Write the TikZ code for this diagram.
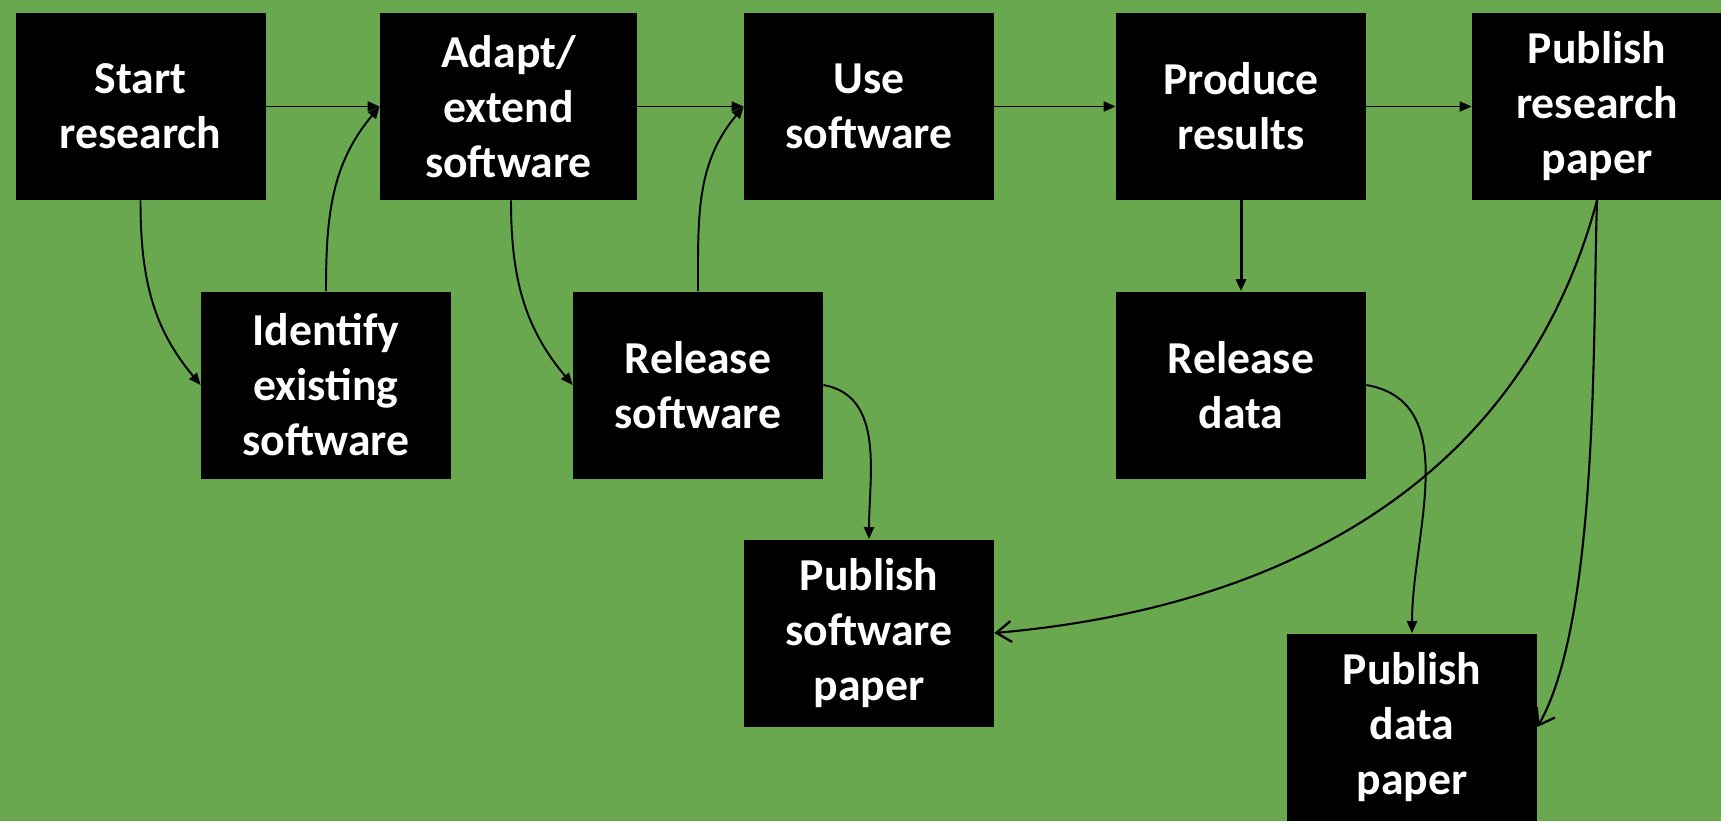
\documentclass[tikz,border=0pt]{standalone}
\usepackage{fontspec}
\newfontfamily\boxfont{Carlito}
\usetikzlibrary{positioning,arrows.meta}
\definecolor{bggreen}{RGB}{106,168,79}
\tikzset{
  stage/.style={fill=black, text=white, minimum width=5cm, minimum height=3.74cm,
    inner sep=0pt, align=center, font=\boxfont\bfseries\fontsize{26}{31.3}\selectfont},
  flow/.style={-{Triangle[length=0.24cm,width=0.2cm]}, line width=1.1pt},
  openflow/.style={-{Straight Barb[length=0.3cm,width=0.42cm,line width=1.3pt]}, line width=1.2pt}
}

\begin{document}
\begin{tikzpicture}
            \fill[bggreen] (0,0) rectangle (34.42,-16.42);
            \useasboundingbox (0,0) rectangle (34.42,-16.42);
            % top row
            \node[stage] (start) at (2.81,-2.13) {Start\\research};
            \node[stage, minimum width=5.14cm] (adapt) at (10.17,-2.13) {Adapt/\\extend\\software};
            \node[stage] (use) at (17.38,-2.13) {Use\\software};
            \node[stage] (produce) at (24.82,-2.13) {Produce\\results};
            \node[stage] (respaper) at (31.94,-2.13) {Publish\\research\\paper};
            % second row
            \node[stage] (identify) at (6.52,-7.7) {Identify\\existing\\software};
            \node[stage] (relsw) at (13.96,-7.7) {Release\\software};
            \node[stage] (reldata) at (24.82,-7.7) {Release\\data};
            % papers
            \node[stage] (swpaper) at (17.38,-12.66) {Publish\\software\\paper};
            \node[stage] (datapaper) at (28.24,-14.54) {Publish\\data\\paper};
            \draw[flow] (start) -- (adapt);
            \draw[flow] (adapt) -- (use);
            \draw[flow] (use) -- (produce);
            \draw[flow] (produce) -- (respaper);
            \draw[flow] (start.south) to[out=-90,in=130] (identify.west);
            \draw[flow] (identify.north) to[out=90,in=230] (adapt.west);
            \draw[flow] ([xshift=0.05cm]adapt.south) to[out=-90,in=130] (relsw.west);
            \draw[flow] (relsw.north) to[out=90,in=230] (use.west);
            \draw[flow] (relsw.east) to[out=-10,in=90] (swpaper.north);
            \draw[flow, line width=1.7pt] (produce) -- (reldata);
            \draw[flow] (reldata.east) to[out=-10,in=90] (datapaper.north);
            \draw[openflow] (respaper.south) to[out=-105,in=5] (swpaper.east);
            \draw[openflow] (respaper.south) to[out=-92,in=60,looseness=0.6] (datapaper.east);
        \end{tikzpicture}
\end{document}
